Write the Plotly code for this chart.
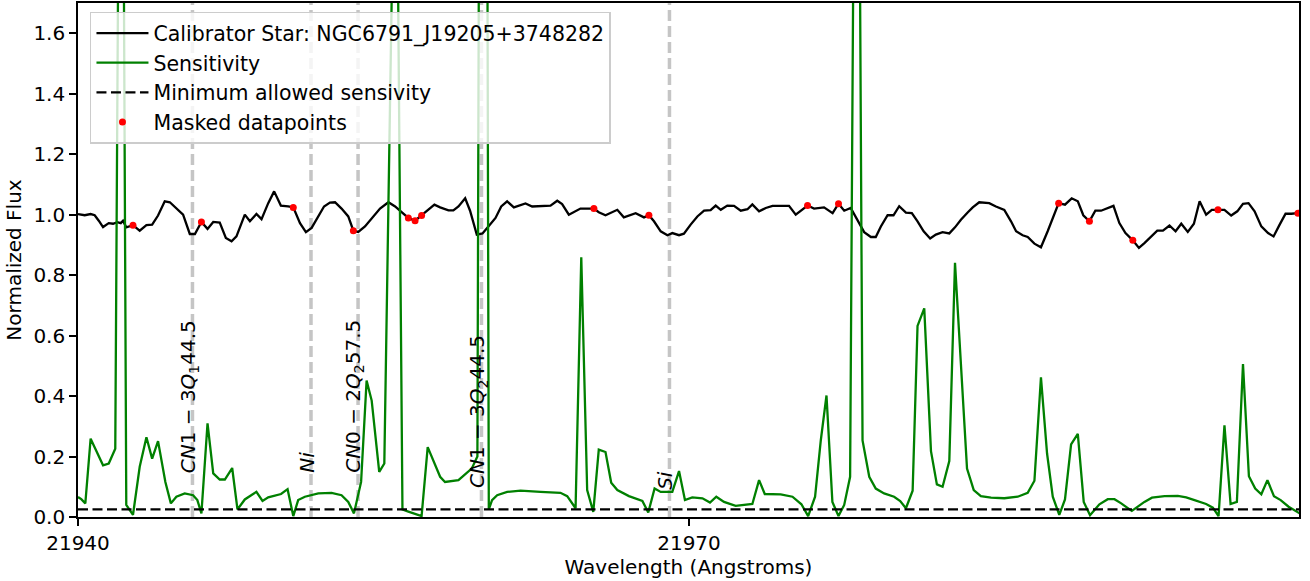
import plotly.graph_objects as go

# ---------------- data ----------------
star_wave = [
    21940.00, 21940.33, 21940.62, 21940.82, 21941.02, 21941.23, 21941.51, 21941.72, 21941.93, 21942.10,
    21942.21, 21942.37, 21942.70, 21943.03, 21943.36, 21943.64, 21943.93, 21944.26, 21944.51, 21944.83,
    21945.16, 21945.49, 21945.74, 21946.06, 21946.36, 21946.64, 21946.96, 21947.26, 21947.54, 21947.78,
    21948.19, 21948.44, 21948.76, 21949.01, 21949.34, 21949.63, 21949.96, 21950.32, 21950.57, 21950.90,
    21951.19, 21951.47, 21951.75, 21952.08, 21952.37, 21952.62, 21952.94, 21953.27, 21953.52, 21953.76,
    21954.09, 21954.42, 21954.83, 21955.24, 21955.57, 21955.89, 21956.22, 21956.55, 21956.87, 21957.12,
    21957.50, 21957.78, 21958.19, 21958.43, 21958.68, 21959.01, 21959.25, 21959.58, 21959.86, 21960.15,
    21960.50, 21960.78, 21961.07, 21961.40, 21961.97, 21962.30, 21963.20, 21963.53, 21963.77, 21964.10,
    21964.67, 21965.33, 21965.57, 21965.90, 21966.48, 21966.80, 21967.38, 21967.79, 21968.03, 21968.28,
    21968.61, 21968.94, 21969.18, 21969.51, 21969.75, 21970.08, 21970.41, 21970.74, 21971.06, 21971.31,
    21971.56, 21971.88, 21972.21, 21972.54, 21972.87, 21973.11, 21973.44, 21973.77, 21974.10, 21974.91,
    21975.24, 21975.82, 21976.14, 21976.63, 21977.05, 21977.34, 21977.62, 21977.94, 21978.27, 21978.60,
    21978.93, 21979.17, 21979.42, 21979.75, 21980.04, 21980.32, 21980.65, 21980.94, 21981.22, 21981.52,
    21981.84, 21982.12, 21982.45, 21982.78, 21983.06, 21983.35, 21983.68, 21983.93, 21984.25, 21984.74,
    21985.07, 21985.48, 21985.81, 21986.06, 21986.38, 21986.63, 21986.96, 21987.28, 21987.61, 21987.91,
    21988.15, 21988.46, 21988.79, 21989.09, 21989.36, 21989.66, 21989.95, 21990.23, 21990.84, 21991.13,
    21991.43, 21991.79, 21992.09, 21992.36, 21992.69, 21992.99, 21993.27, 21993.59, 21993.89, 21994.17,
    21994.49, 21994.79, 21995.07, 21995.39, 21995.67, 21995.97, 21996.29, 21996.62, 21996.92, 21997.20,
    21997.47, 21997.77, 21998.10, 21998.43, 21998.70, 21999.00, 21999.29, 21999.57, 21999.90,
]
star_flux = [
    1.002, 0.998, 1.002, 0.998, 0.980, 0.959, 0.972, 0.970, 0.975, 0.972,
    0.980, 0.958, 0.965, 0.947, 0.965, 0.967, 0.997, 1.044, 1.041, 1.020,
    1.000, 0.936, 0.936, 0.976, 0.953, 0.976, 0.974, 0.923, 0.912, 0.928,
    1.000, 0.978, 1.002, 0.985, 1.038, 1.077, 1.030, 1.027, 1.024, 0.972,
    0.942, 0.956, 0.989, 1.027, 1.040, 1.041, 1.020, 0.994, 0.947, 0.943,
    0.961, 0.989, 1.020, 1.041, 1.027, 1.008, 0.989, 0.980, 0.997, 1.013,
    1.033, 1.024, 1.014, 1.014, 1.027, 1.054, 1.013, 0.934, 0.938, 0.961,
    0.989, 1.027, 1.044, 1.024, 1.037, 1.027, 1.030, 1.046, 1.035, 1.000,
    1.020, 1.020, 1.008, 0.998, 1.016, 0.991, 1.005, 0.991, 0.998, 0.978,
    0.945, 0.932, 0.939, 0.932, 0.937, 0.967, 0.994, 1.013, 1.015, 1.030,
    1.016, 1.030, 1.029, 1.013, 1.018, 1.034, 1.011, 1.022, 1.029, 1.029,
    1.000, 1.030, 1.020, 1.024, 1.005, 1.036, 1.013, 1.022, 0.983, 0.942,
    0.926, 0.926, 0.961, 0.998, 0.998, 1.028, 1.007, 1.005, 0.978, 0.945,
    0.921, 0.934, 0.942, 0.938, 0.958, 0.983, 1.007, 1.024, 1.041, 1.038,
    1.027, 1.016, 0.978, 0.945, 0.932, 0.926, 0.904, 0.892, 0.945, 1.000,
    1.038, 1.033, 1.054, 1.044, 0.998, 0.978, 1.013, 1.013, 1.029, 0.972,
    0.939, 0.915, 0.890, 0.906, 0.928, 0.947, 0.947, 0.964, 0.945, 0.970,
    0.943, 0.970, 1.044, 1.000, 1.016, 1.016, 1.016, 0.997, 1.011, 1.036,
    1.038, 1.011, 0.961, 0.939, 0.928, 0.967, 1.003, 1.003, 1.005,
]

sens_wave = [
    21940.00, 21940.16, 21940.36, 21940.62, 21941.23, 21941.51, 21941.83, 21942.13, 21942.37, 21942.70,
    21943.03, 21943.36, 21943.64, 21943.93, 21944.29, 21944.56, 21944.83, 21945.24, 21945.65, 21945.86,
    21946.06, 21946.36, 21946.64, 21946.96, 21947.21, 21947.57, 21947.83, 21948.19, 21948.76, 21949.06,
    21949.34, 21949.97, 21950.29, 21950.57, 21950.81, 21951.14, 21951.80, 21952.45, 21952.94, 21953.27,
    21953.55, 21953.90, 21954.17, 21954.42, 21954.79, 21955.04, 21955.61, 21955.93, 21956.22, 21956.55,
    21956.87, 21957.17, 21957.78, 21958.02, 21958.68, 21959.33, 21959.61, 21959.91, 21960.17, 21960.33,
    21960.58, 21961.07, 21961.73, 21962.71, 21963.69, 21964.02, 21964.43, 21964.71, 21965.00, 21965.30,
    21965.57, 21965.90, 21966.18, 21966.48, 21967.05, 21967.71, 21968.00, 21968.31, 21968.61, 21969.18,
    21969.51, 21969.80, 21970.16, 21970.66, 21971.03, 21971.34, 21971.72, 21972.29, 21973.11, 21973.44,
    21973.72, 21974.50, 21975.08, 21975.52, 21975.85, 21976.19, 21976.47, 21976.75, 21977.04, 21977.34,
    21977.62, 21977.91, 21978.24, 21978.52, 21978.85, 21979.17, 21979.58, 21980.07, 21980.37, 21980.65,
    21980.98, 21981.22, 21981.55, 21981.88, 21982.17, 21982.45, 21982.78, 21983.06, 21983.65, 21983.98,
    21984.33, 21984.83, 21985.48, 21986.14, 21986.63, 21986.96, 21987.28, 21987.58, 21987.86, 21988.18,
    21988.46, 21988.76, 21989.09, 21989.38, 21989.69, 21990.15, 21990.56, 21990.89, 21991.22, 21991.74,
    21992.36, 21992.73, 21993.35, 21994.00, 21994.41, 21994.82, 21995.39, 21995.72, 21996.00, 21996.29,
    21996.59, 21996.90, 21997.20, 21997.49, 21997.80, 21998.10, 21998.40, 21998.72, 21999.05, 21999.44,
    21999.73, 21999.98,
]
sens_value = [
    0.066, 0.059, 0.045, 0.259, 0.171, 0.177, 0.226, 3.600, 0.040, 0.007,
    0.166, 0.264, 0.193, 0.251, 0.116, 0.045, 0.067, 0.078, 0.072, 0.056,
    0.012, 0.310, 0.144, 0.124, 0.124, 0.162, 0.025, 0.058, 0.083, 0.053,
    0.065, 0.076, 0.092, 0.003, 0.056, 0.067, 0.078, 0.080, 0.072, 0.050,
    0.012, 0.116, 0.451, 0.385, 0.149, 0.177, 2.600, 0.025, 0.018, 0.010,
    0.003, 0.231, 0.133, 0.116, 0.122, 0.160, 0.200, 7.000, 0.025, 0.056,
    0.072, 0.083, 0.087, 0.083, 0.080, 0.069, 0.029, 0.859, 0.089, 0.017,
    0.223, 0.215, 0.113, 0.089, 0.069, 0.053, 0.015, 0.094, 0.083, 0.083,
    0.152, 0.056, 0.065, 0.062, 0.048, 0.067, 0.050, 0.037, 0.043, 0.122,
    0.076, 0.075, 0.067, 0.042, 0.003, 0.067, 0.253, 0.402, 0.050, 0.003,
    0.040, 0.133, 3.700, 0.253, 0.133, 0.094, 0.078, 0.067, 0.053, 0.029,
    0.087, 0.632, 0.690, 0.218, 0.108, 0.100, 0.185, 0.841, 0.160, 0.089,
    0.069, 0.064, 0.062, 0.067, 0.080, 0.120, 0.462, 0.210, 0.067, 0.007,
    0.058, 0.240, 0.275, 0.050, 0.006, 0.042, 0.059, 0.059, 0.045, 0.020,
    0.050, 0.064, 0.069, 0.070, 0.065, 0.056, 0.043, 0.031, 0.003, 0.303,
    0.043, 0.050, 0.506, 0.135, 0.094, 0.075, 0.122, 0.069, 0.056, 0.034,
    0.021, 0.012,
]

masked_wave = [21942.70, 21946.06, 21950.57, 21953.52, 21956.22, 21956.55, 21956.87, 21965.33,
               21968.03, 21975.82, 21977.34, 21988.15, 21989.66, 21991.79, 21995.97, 21999.90]
masked_flux = [0.965, 0.976, 1.024, 0.947, 0.989, 0.980, 0.997, 1.020,
               0.998, 1.030, 1.036, 1.038, 0.978, 0.915, 1.016, 1.005]

min_sensitivity = 0.025

line_waves = [21945.62, 21951.44, 21953.75, 21959.81, 21969.04]
line_labels = ["<i>CN</i>1 \u2212 3<i>Q</i><sub>1</sub>44.5", "<i>Ni</i>",
               "<i>CN</i>0 \u2212 2<i>Q</i><sub>2</sub>57.5",
               "<i>CN</i>1 \u2212 3<i>Q</i><sub>2</sub>44.5", "<i>Si</i>"]
line_label_y = [0.138, 0.138, 0.138, 0.089, 0.083]

x_range = [21940.0, 21999.95]
y_range = [0.0, 1.7]
x_ticks = [21940, 21970]
y_ticks = [0.0, 0.2, 0.4, 0.6, 0.8, 1.0, 1.2, 1.4, 1.6]

FONT = "DejaVu Sans"

fig = go.Figure()
fig.add_trace(go.Scatter(x=star_wave, y=star_flux, mode="lines",
                         line=dict(color="black", width=2.3),
                         name="Calibrator Star: NGC6791_J19205+3748282"))
fig.add_trace(go.Scatter(x=sens_wave, y=sens_value, mode="lines",
                         line=dict(color="green", width=2.3),
                         name="Sensitivity"))
fig.add_trace(go.Scatter(x=[x_range[0], x_range[1]], y=[min_sensitivity, min_sensitivity],
                         mode="lines", line=dict(color="black", width=2.3, dash="10px,4.5px"),
                         name="Minimum allowed sensivity"))
fig.add_trace(go.Scatter(x=masked_wave, y=masked_flux, mode="markers",
                         marker=dict(color="red", size=7),
                         name="Masked datapoints"))

for w, lab, ly in zip(line_waves, line_labels, line_label_y):
    fig.add_shape(type="line", xref="x", yref="paper", x0=w, x1=w, y0=0, y1=1,
                  line=dict(color="rgba(150,150,150,0.55)", width=3.5, dash="11px,5px"),
                  layer="below")
    fig.add_annotation(x=w, y=ly, xref="x", yref="y", text=lab, textangle=-90,
                       showarrow=False, xanchor="center", yanchor="bottom", xshift=-4,
                       font=dict(family=FONT, size=20, color="black"))

axis_common = dict(showline=True, linecolor="black", linewidth=1.6, mirror=True,
                   ticks="outside", ticklen=7, tickwidth=1.5, tickcolor="black",
                   showgrid=False, zeroline=False,
                   tickfont=dict(family=FONT, size=20, color="black"))

fig.update_layout(
    width=1310, height=581,
    margin=dict(l=78, r=11, t=1, b=64, pad=0),
    paper_bgcolor="white", plot_bgcolor="white",
    font=dict(family=FONT, size=20, color="black"),
    xaxis=dict(range=x_range, tickvals=x_ticks, ticktext=[str(t) for t in x_ticks],
               title=dict(text="Wavelength (Angstroms)", standoff=2,
                          font=dict(family=FONT, size=20)), **axis_common),
    yaxis=dict(range=y_range, tickvals=y_ticks, tickformat=".1f",
               title=dict(text="Normalized Flux", standoff=6,
                          font=dict(family=FONT, size=20)), **axis_common),
    legend=dict(x=0.0098, y=0.983, xanchor="left", yanchor="top",
                bgcolor="rgba(255,255,255,0.8)", bordercolor="#cccccc", borderwidth=1.5,
                font=dict(family=FONT, size=20.5, color="black"), tracegroupgap=0,
                itemwidth=52),
    showlegend=True,
)

fig.write_html("out.html")
